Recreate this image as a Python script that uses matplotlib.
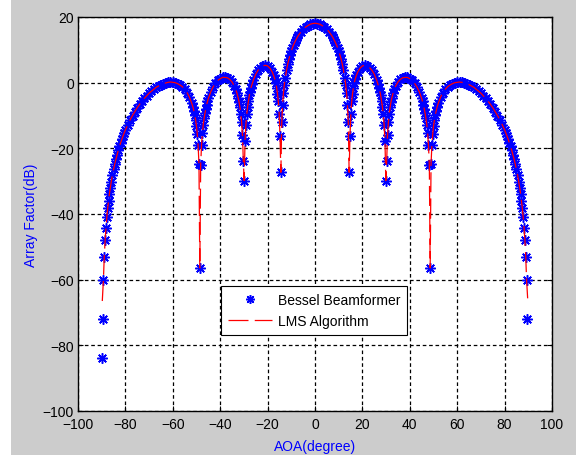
import matplotlib
matplotlib.use("Agg")
import matplotlib.pyplot as plt
from matplotlib.patches import Rectangle
import numpy as np

# angle of arrival (degrees) and array factor (dB) of the Bessel beamformer
aoa = [
    -90, -89.64, -89.28, -88.92, -88.56, -88.2, -87.84, -87.48, -87.12, -86.76, -86.4, -86,
    -85.5, -85, -84.5, -84, -83.5, -83, -82.5, -82, -81.5, -81, -80.5, -80,
    -79, -78, -77, -76, -75, -74, -73, -72, -71, -70, -69, -68, -67, -66, -65, -64,
    -63, -62, -61, -60, -59, -58, -57, -56, -55, -54, -53,
    -52, -51.48, -51.12, -50.76, -50.4, -50.04, -49.68, -49.32, -48.96, -48.6,
    -48.24, -47.88, -47.52, -47.16, -46.8, -46.44, -46.08, -45.72, -45.36, -45,
    -44, -43, -42, -41, -40, -39, -38, -37, -36, -35, -34, -33.5, -33,
    -32.4, -32.04, -31.68, -31.32, -30.96, -30.6, -30.24, -29.88, -29.52, -29.16,
    -28.8, -28.44, -28.08, -27.72, -27.36, -27, -26.5,
    -26, -25, -24, -23, -22, -21, -20, -19, -18, -17.5, -17,
    -16.56, -16.2, -15.84, -15.48, -15.12, -14.76, -14.4, -14.04, -13.68, -13.32, -12.96, -12.6,
    -12, -11.5, -11, -10.5, -10, -9.5, -9, -8.5, -8, -7.5, -7, -6, -5, -4, -3, -2, -1,
    0, 1, 2, 3, 4, 5, 6, 7, 7.5, 8, 8.5, 9, 9.5, 10, 10.5, 11, 11.5, 12,
    12.6, 12.96, 13.32, 13.68, 14.04, 14.4, 14.76, 15.12, 15.48, 15.84, 16.2, 16.56,
    17, 17.5, 18, 19, 20, 21, 22, 23, 24, 25, 26,
    26.5, 27, 27.36, 27.72, 28.08, 28.44, 28.8, 29.16, 29.52, 29.88, 30.24, 30.6,
    30.96, 31.32, 31.68, 32.04, 32.4,
    33, 33.5, 34, 35, 36, 37, 38, 39, 40, 41, 42, 43, 44,
    45, 45.36, 45.72, 46.08, 46.44, 46.8, 47.16, 47.52, 47.88, 48.24, 48.6,
    48.96, 49.32, 49.68, 50.04, 50.4, 50.76, 51.12, 51.48, 52,
    53, 54, 55, 56, 57, 58, 59, 60, 61, 62, 63, 64, 65, 66, 67, 68, 69, 70,
    71, 72, 73, 74, 75, 76, 77, 78, 79,
    80, 80.5, 81, 81.5, 82, 82.5, 83, 83.5, 84, 84.5, 85, 85.5,
    86, 86.4, 86.76, 87.12, 87.48, 87.84, 88.2, 88.56, 88.92, 89.28, 89.64,
]
af_bessel = [
    -84.0, -72.1, -60.1, -53.0, -48.0, -44.2, -41.0, -38.3, -36.0, -33.9, -32.1, -30.3,
    -28.2, -26.4, -24.8, -23.3, -21.9, -20.6, -19.4, -18.3, -17.2, -16.2, -15.3, -14.4,
    -12.8, -11.3, -10.0, -8.8, -7.6, -6.6, -5.6, -4.8, -4.0, -3.2, -2.6, -2.0, -1.4, -1.0, -0.6, -0.3,
    -0.1, 0.1, 0.2, 0.1, 0.0, -0.3, -0.7, -1.2, -2.0, -3.0, -4.4,
    -6.3, -7.5, -8.6, -9.8, -11.3, -13.1, -15.5, -19.0, -24.8, -56.4,
    -25.1, -19.0, -15.4, -12.8, -10.9, -9.3, -7.9, -6.7, -5.7, -4.8,
    -2.8, -1.3, -0.2, 0.7, 1.2, 1.6, 1.6, 1.5, 1.0, 0.2, -1.1, -2.0, -3.0,
    -4.7, -5.9, -7.5, -9.4, -12.1, -16.0, -23.9, -29.8, -17.7, -12.8,
    -9.6, -7.3, -5.5, -3.9, -2.7, -1.5, -0.3,
    0.8, 2.6, 3.8, 4.6, 5.1, 5.3, 5.1, 4.4, 3.2, 2.3, 1.2,
    -0.1, -1.5, -3.3, -5.7, -9.4, -16.3, -27.3, -12.1, -6.7, -3.2, -0.7, 1.3,
    3.9, 5.7, 7.2, 8.5, 9.7, 10.7, 11.6, 12.4, 13.1, 13.8, 14.4, 15.4, 16.3, 16.9, 17.4, 17.8, 18.0,
    18.1, 18.0, 17.8, 17.4, 16.9, 16.3, 15.4, 14.4, 13.8, 13.1, 12.4, 11.6, 10.7, 9.7, 8.5, 7.2, 5.7, 3.9,
    1.3, -0.7, -3.2, -6.7, -12.1, -27.3, -16.3, -9.4, -5.7, -3.3, -1.5, -0.1,
    1.2, 2.3, 3.2, 4.4, 5.1, 5.3, 5.1, 4.6, 3.8, 2.6, 0.8,
    -0.3, -1.5, -2.7, -3.9, -5.5, -7.3, -9.6, -12.8, -17.7, -29.8, -23.9, -16.0,
    -12.1, -9.4, -7.5, -5.9, -4.7,
    -3.0, -2.0, -1.1, 0.2, 1.0, 1.5, 1.6, 1.6, 1.2, 0.7, -0.2, -1.3, -2.8,
    -4.8, -5.7, -6.7, -7.9, -9.3, -10.9, -12.8, -15.4, -19.0, -25.1, -56.4,
    -24.8, -19.0, -15.5, -13.1, -11.3, -9.8, -8.6, -7.5, -6.3,
    -4.4, -3.0, -2.0, -1.2, -0.7, -0.3, 0.0, 0.1, 0.2, 0.1, -0.1, -0.3, -0.6, -1.0, -1.4, -2.0, -2.6, -3.2,
    -4.0, -4.8, -5.6, -6.6, -7.6, -8.8, -10.0, -11.3, -12.8,
    -14.4, -15.3, -16.2, -17.2, -18.3, -19.4, -20.6, -21.9, -23.3, -24.8, -26.4, -28.2,
    -30.3, -32.1, -33.9, -36.0, -38.3, -41.0, -44.2, -48.0, -53.0, -60.1, -72.1,
]
# the LMS curve follows the same points but stops at these end values
lms_end_aoa = [-89.75, 89.75]
lms_end_af = [-66.5, -66.0]

xticks = [-100, -80, -60, -40, -20, 0, 20, 40, 60, 80, 100]
yticks = [-100, -80, -60, -40, -20, 0, 20]

plt.rcParams['font.family'] = ['Liberation Sans', 'DejaVu Sans']
plt.rcParams['font.size'] = 10

x = np.array(aoa)
y = np.array(af_bessel)
inner = (x > -89.5) & (x < 89.5)
lms_x = np.concatenate([[lms_end_aoa[0]], x[inner], [lms_end_aoa[1]]])
lms_y = np.concatenate([[lms_end_af[0]], y[inner], [lms_end_af[1]]])

fig = plt.figure(figsize=(5.76, 4.56), dpi=100, facecolor='#cccccc')
fig.patches.append(Rectangle((0, 0), 11 / 576, 1, transform=fig.transFigure,
                             facecolor='white', edgecolor='none', zorder=0))
ax = fig.add_axes([78 / 576, 44 / 456, 474 / 576, 394 / 456])

ax.plot(x, y, linestyle='none', marker=(8, 2, 0), markersize=7.5,
        markeredgecolor='#0000ff', markeredgewidth=1.1, label='Bessel Beamformer')
ax.plot(lms_x, lms_y, color='#ff0000', linewidth=0.9, dashes=(16, 5),
        label='LMS Algorithm')

ax.set_xlim(-100, 100)
ax.set_ylim(-100, 20)
ax.set_xticks(xticks)
ax.set_yticks(yticks)
ax.grid(True, color='k', linestyle=(0, (2.9, 2.2)), linewidth=0.9)
ax.tick_params(direction='in', length=3.6, width=0.8, top=True, right=True,
               labelsize=10, pad=3)
ax.tick_params(axis='x', pad=4)
for s in ax.spines.values():
    s.set_linewidth(1.0)

ax.set_xlabel('AOA(degree)', color='#0000ff', fontsize=10)
ax.set_ylabel('Array Factor(dB)', color='#0000ff', fontsize=10)
ax.xaxis.set_label_coords(0.5, -0.07)
ax.yaxis.set_label_coords(-0.084, 0.5)

leg = ax.legend(loc='upper left', bbox_to_anchor=(0.301, 0.317), fontsize=10,
                fancybox=False, edgecolor='k', framealpha=1, borderpad=0.5,
                handlelength=3.2, handletextpad=0.4, labelspacing=0.5,
                borderaxespad=0, markerscale=0.85)
leg.get_frame().set_linewidth(0.8)

fig.savefig('out.png', dpi=100, facecolor=fig.get_facecolor())
